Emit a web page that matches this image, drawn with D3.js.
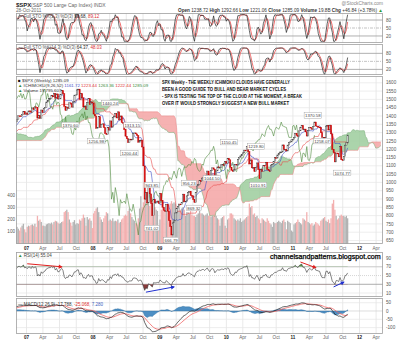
<!DOCTYPE html>
<html><head><meta charset="utf-8">
<script src="https://cdn.jsdelivr.net/npm/d3@7"></script>
<style>
body{margin:0;background:#fff}
svg{display:block}
text{font-family:Arial,"Liberation Sans",sans-serif}
</style>
</head><body>
<svg id="c" width="400" height="341"></svg>
<script>
// ---------- DATA (weekly closes, Friday) ----------
const warmStart = "2005-04-29"; // warm-up weeks (off the left edge) for the indicators
const close2005 = [1156.85,1171.35,1154.05,1189.28,1198.78,1196.02,1200.93,1216.96,1191.57,1211.86,1211.86,1227.92,1229.03,1234.18,1226.42,1230.39,1219.71,1205.10,1218.02,1241.48,1237.91,1215.29,1228.81,1195.90,1186.57,1179.59,1198.41,1220.14,1234.72,1248.27,1268.25,1265.08,1259.37,1267.32,1268.66,1248.29];
const close2006a = [1285.45,1287.61,1261.49,1283.72,1264.03,1266.99,1289.38,1289.43,1287.23,1281.42,1307.25,1302.95,1294.83,1295.50,1289.12,1311.28,1310.61,1325.76,1291.24,1267.03,1280.16,1288.22,1252.30,1251.54,1244.50,1270.20,1265.48,1236.20,1240.29,1278.55,1279.36,1266.74,1302.30,1295.09,1311.01,1298.92,1319.66,1314.78,1335.85,1349.95,1365.62,1368.60,1377.34];
const close2006 = [1364.30,1380.90,1401.20,1400.95,1396.71,1409.84,1427.09,1410.76,1418.30];
const close2007 = [1409.71,1430.73,1430.50,1422.18,1448.39,1438.06,1455.54,1451.19,1387.17,1402.84,1386.95,1436.11,1420.86,1443.76,1452.85,1484.35,1494.07,1505.62,1505.85,1522.75,1515.73,1536.34,1507.67,1532.91,1502.56,1503.35,1530.44,1552.50,1534.10,1458.95,1433.06,1453.64,1445.94,1479.37,1473.99,1453.55,1484.25,1525.75,1526.75,1557.59,1561.80,1500.63,1535.28,1509.65,1453.70,1458.74,1440.70,1481.14,1504.66,1467.95,1484.46,1478.49];
const close2008 = [1411.63,1401.02,1325.19,1330.61,1395.42,1331.29,1349.99,1353.11,1330.63,1293.37,1288.14,1329.51,1315.22,1370.40,1332.83,1390.33,1397.84,1413.90,1388.28,1425.35,1375.93,1400.38,1360.68,1360.03,1317.93,1278.38,1262.90,1239.49,1260.68,1257.76,1260.31,1296.32,1298.20,1292.20,1282.83,1242.31,1251.70,1255.08,1213.27,1099.23,899.22,940.55,876.77,968.75,930.99,873.29,800.03,896.24,876.07,879.73,887.88,872.80];
const close2009 = [931.80,890.35,850.12,831.95,825.88,868.60,826.84,770.05,735.09,683.38,756.55,768.54,815.94,842.50,856.56,869.60,866.23,877.52,929.23,882.88,887.00,919.14,940.09,946.21,921.23,918.90,896.42,879.13,940.38,979.26,987.48,1010.48,1004.09,1026.13,1028.93,1016.40,1042.73,1068.30,1044.38,1025.21,1071.49,1087.68,1079.60,1036.19,1069.30,1093.48,1091.38,1091.49,1105.98,1106.41,1102.47,1126.48,1115.10];
const close2010 = [1144.98,1136.03,1091.76,1073.87,1066.19,1075.51,1109.17,1104.49,1138.70,1149.99,1159.90,1166.59,1178.10,1194.37,1192.13,1217.28,1186.69,1110.88,1135.68,1087.69,1089.41,1064.88,1091.60,1117.51,1076.76,1022.58,1077.96,1064.88,1102.66,1101.60,1121.64,1079.25,1071.69,1064.59,1104.51,1109.55,1125.59,1148.67,1146.24,1165.15,1176.19,1183.08,1183.26,1225.85,1199.21,1199.73,1189.40,1224.71,1240.40,1243.91,1256.77,1257.64];
const close2011 = [1271.50,1293.24,1283.35,1276.34,1310.87,1329.15,1343.01,1319.88,1321.15,1304.28,1279.21,1313.80,1332.41,1328.17,1319.68,1337.38,1363.61,1340.20,1337.77,1333.27,1331.10,1300.16,1270.98,1271.50,1268.45,1339.67,1343.80,1316.14,1345.02,1292.28,1199.38,1178.81,1123.53,1176.80,1173.97,1154.23,1216.01,1136.43,1131.42,1155.46,1224.58,1238.25,1285.09];
// weekly volume (axis units as shown on the left: 100..400)
const vol2006 = [130,140,125,110,135,150,165,120,95];
const vol2007 = [140,150,145,155,160,150,165,140,230,190,200,180,150,150,145,160,165,170,165,175,160,180,190,185,175,165,170,180,185,260,270,280,260,200,175,150,180,195,160,170,165,200,190,210,240,215,150,220,200,210,190,130];
const vol2008 = [250,270,290,300,260,220,200,180,210,230,260,250,190,200,190,210,185,190,185,200,170,180,200,210,230,240,230,270,290,250,220,200,190,170,160,210,290,390,300,340,440,380,360,330,310,330,360,230,300,280,270,150];
const vol2009 = [200,280,300,290,270,300,290,320,330,350,330,340,330,290,270,300,280,290,300,280,230,260,260,250,270,240,230,230,220,240,250,270,250,250,240,230,240,250,230,240,220,230,230,250,230,210,200,150,210,220,230,150,130];
const vol2010 = [200,210,250,250,240,210,200,190,200,190,210,180,190,200,210,220,230,330,300,310,240,250,220,230,210,200,170,210,200,190,180,210,190,170,160,140,180,170,170,180,190,180,170,190,200,180,120,190,180,170,110,100];
const vol2011 = [160,170,180,200,180,170,160,210,200,190,260,180,170,160,170,150,160,180,170,160,150,190,200,210,220,190,180,200,170,210,330,360,280,230,200,210,230,240,230,230,220,230,210];
// axis ticks
const priceTicks = [650,700,750,800,850,900,950,1000,1050,1100,1150,1200,1250,1300,1350,1400,1450,1500,1550,1600];
const volTicks = [100,200,300,400];
const stoTicks = [80,50,20];
const rsiTicks = [90,70,50,30,10];
const macdTicks = [50,0,-50,-100];
// price label annotations (text, date, price at label centre)
const priceLabels = [
 ["1370.60","2007-08-29",1346],["1440.24","2008-04-03",1478],["1256.98","2008-01-19",1249],
 ["1313.15","2008-08-03",1346],["1200.44","2008-07-18",1177],["943.85","2008-11-18",984],
 ["741.02","2008-11-18",725],["666.79","2009-03-04",653],["956.23","2009-06-10",996],
 ["869.32","2009-07-07",846],["1150.45","2010-01-15",1243],["1044.50","2009-10-13",1026],
 ["1219.80","2010-06-12",1216],["1010.91","2010-06-24",984],["1370.58","2011-04-20",1403],
 ["1258.07","2011-06-09",1249],["1074.77","2011-09-28",1057]];
// RSI trend arrows: [date1, rsi1, date2, rsi2, color]
const rsiArrows = [
 ["2007-01-05",77,"2007-07-13",70,"#e02020"],["2011-02-11",81,"2011-05-06",68,"#e02020"],
 ["2008-10-17",12,"2009-03-20",24,"#2030d0"],["2011-08-12",24,"2011-10-07",35,"#2030d0"]];
const noteLines = ["SPX Weekly - THE WEEKLY ICHIMOKU CLOUDS HAVE GENERALLY","BEEN A GOOD GUIDE TO BULL AND BEAR MARKET CYCLES","- SPX IS TESTING THE TOP OF THE CLOUD AT THE MOMENT, A BREAK","OVER IT WOULD STRONGLY SUGGEST A NEW BULL MARKET"];
const noteWidths = [128,124,140,127];

// ---------- BUILD ----------
const closes = [].concat(close2005, close2006a, close2006, close2007, close2008, close2009, close2010, close2011);
const volumes = [].concat(vol2006, vol2007, vol2008, vol2009, vol2010, vol2011);
const nWarm = close2005.length + close2006a.length;
const N = closes.length;
const t0 = Date.parse(warmStart + "T00:00:00Z");
const WEEK = 7*864e5;
const dates = d3.range(N + 26).map(i => new Date(t0 + i*WEEK));

function mid(p, i){ const s = closes.slice(Math.max(0,i-p+1), i+1); return (d3.max(s)+d3.min(s))/2; }
const tenkan = closes.map((c,i)=> i>=8 ? mid(9,i) : null);
const kijun = closes.map((c,i)=> i>=25 ? mid(26,i) : null);
const spanA = [], spanB = [];
for (let i=0;i<N;i++){
  if (i>=25) spanA[i+26] = (tenkan[i]+kijun[i])/2;
  if (i>=51) spanB[i+26] = mid(52,i);
}
function stoch(p){
  const fast = closes.map((c,i)=>{ const s=closes.slice(Math.max(0,i-p+1),i+1); const lo=d3.min(s), hi=d3.max(s); return hi>lo ? (c-lo)/(hi-lo)*100 : 50; });
  const k = fast.map((v,i)=> i>=2 ? d3.mean(fast.slice(i-2,i+1)) : v);
  const d = k.map((v,i)=> i>=2 ? d3.mean(k.slice(i-2,i+1)) : v);
  return {k,d};
}
const sto1 = stoch(5), sto2 = stoch(14);
// RSI 14 (Wilder)
const rsi = new Array(N).fill(null);
{ let g=0,l=0;
  for (let i=1;i<=14;i++){ const ch=closes[i]-closes[i-1]; if(ch>0) g+=ch; else l-=ch; }
  g/=14; l/=14; rsi[14]=100-100/(1+g/l);
  for (let i=15;i<N;i++){ const ch=closes[i]-closes[i-1]; g=(g*13+Math.max(ch,0))/14; l=(l*13+Math.max(-ch,0))/14; rsi[i]=100-100/(1+g/l); } }
function ema(arr,p){ const k=2/(p+1); const out=[]; arr.forEach((v,i)=> out.push(i===0? v : v*k + out[i-1]*(1-k))); return out; }
const e12=ema(closes,12), e26=ema(closes,26);
const macd = closes.map((c,i)=> e12[i]-e26[i]);
const signal = ema(macd,9);
const hist = macd.map((m,i)=> m-signal[i]);

// ---------- LAYOUT ----------
const L=16, R=383;
const P = {sto1:[13,43], sto2:[44,75], main:[76,244], rsi:[252,297], macd:[298,334]};
const x = d3.scaleUtc().domain([new Date(Date.UTC(2007,0,1)), new Date(Date.UTC(2012,0,1))]).range([26.5,359.5]);
const y = d3.scaleLinear().domain([1400,1000]).range([116,182.4]);
const vy = d3.scaleLinear().domain([0,400]).range([244,195]);
const ys1 = d3.scaleLinear().domain([0,100]).range([41.3,14.7]);
const ys2 = d3.scaleLinear().domain([0,100]).range([74.7,48]);
const yr = d3.scaleLinear().domain([0,100]).range([297.4,253.7]);
const ym = d3.scaleLinear().domain([0,-100]).range([311,327.6]);

const svg = d3.select("#c");
const defs = svg.append("defs");
Object.entries(P).forEach(([k,[t,b]])=>{
  defs.append("clipPath").attr("id","cl-"+k).append("rect").attr("x",L).attr("y",t).attr("width",R-L).attr("height",b-t);
});
const ticks = d3.utcMonth.every(3).range(new Date(Date.UTC(2007,0,1)), new Date(Date.UTC(2012,4,2)));
const fmtTick = d => d.getUTCMonth()===0 ? d3.utcFormat("%y")(d) : d3.utcFormat("%b")(d);

function panel(key){
  const [t,b]=P[key];
  const g = svg.append("g");
  g.append("rect").attr("x",L).attr("y",t).attr("width",R-L).attr("height",b-t).attr("fill","#fff");
  const gg = g.append("g").attr("clip-path",`url(#cl-${key})`);
  gg.selectAll("line.v").data(ticks).join("line").attr("x1",d=>x(d)).attr("x2",d=>x(d)).attr("y1",t).attr("y2",b).attr("stroke","#e3e3e3").attr("stroke-width",0.8);
  return {g, gg, t, b};
}
function frame(key){
  const [t,b]=P[key];
  svg.append("rect").attr("x",L+0.5).attr("y",t+0.5).attr("width",R-L-1).attr("height",b-t-1).attr("fill","none").attr("stroke","#a0a0a0").attr("stroke-width",0.8);
}
function rightLabels(vals, sc, fmt){
  svg.append("g").selectAll("text").data(vals).join("text").attr("x",R+3).attr("y",d=>sc(d)+1.6)
    .attr("font-size",4.6).attr("fill","#555").text(fmt||(d=>d));
}
const lineGen = (sc, arr) => d3.line().defined((d,i)=>arr[i]!=null).x((d,i)=>x(dates[i])).y((d,i)=>sc(arr[i]));

// ---------- HEADER ----------
svg.append("text").attr("x",16).attr("y",7).attr("font-size",6).attr("font-weight","bold").attr("fill","#222").text("$SPX");
svg.append("text").attr("x",31).attr("y",7).attr("font-size",5).attr("fill","#666").text("(S&P 500 Large Cap Index) INDX");
svg.append("text").attr("x",16).attr("y",11.8).attr("font-size",4.6).attr("fill","#666").text("28-Oct-2011");
svg.append("text").attr("x",383).attr("y",5).attr("text-anchor","end").attr("font-size",4.8).attr("fill","#888").text("@StockCharts.com");
{
  const t = svg.append("text").attr("x",178).attr("y",11.8).attr("font-size",4.7).attr("fill","#333").attr("textLength",205).attr("lengthAdjust","spacingAndGlyphs");
  [["Open ",1],["1238.72 ",0],["High ",1],["1292.66 ",0],["Low ",1],["1221.06 ",0],["Close ",1],["1285.09 ",0],["Volume ",1],["19.8B ",0],["Chg ",1],["+46.84 (+3.78%) ",0]]
   .forEach(([s,b])=> t.append("tspan").attr("font-weight",b?"bold":"normal").text(s));
  t.append("tspan").attr("fill","#2a9a2a").text("▲");
}

// ---------- STO PANELS ----------
function stoPanel(key, sc, st, label, v1, v2){
  const p = panel(key);
  [80,20].forEach(v=> p.gg.append("line").attr("x1",L).attr("x2",R).attr("y1",sc(v)).attr("y2",sc(v)).attr("stroke","#9a9a9a").attr("stroke-width",0.8));
  p.gg.append("line").attr("x1",L).attr("x2",R).attr("y1",sc(50)).attr("y2",sc(50)).attr("stroke","#aaa").attr("stroke-width",0.7).attr("stroke-dasharray","3,1,1,1");
  p.gg.append("path").attr("d",lineGen(sc,st.d)(closes)).attr("fill","none").attr("stroke","#f07070").attr("stroke-width",1);
  p.gg.append("path").attr("d",lineGen(sc,st.k)(closes)).attr("fill","none").attr("stroke","#222").attr("stroke-width",0.7);
  const t = svg.append("text").attr("x",18).attr("y",P[key][0]+4.6).attr("font-size",4.5).attr("fill","#555");
  t.append("tspan").text("— "+label+" ");
  t.append("tspan").attr("fill","#222").text(v1+", ");
  t.append("tspan").attr("fill","#e03030").text(v2);
  frame(key);
  rightLabels(stoTicks, sc);
}
stoPanel("sto1", ys1, sto1, "Full STO %K(5,3) %D(3)", "90.68", "89.12");
stoPanel("sto2", ys2, sto2, "Full STO %K(14,3) %D(3)", "64.37", "48.03");

// ---------- MAIN PANEL ----------
{
  const p = panel("main");
  p.gg.selectAll("line.h").data(priceTicks).join("line").attr("x1",L).attr("x2",R).attr("y1",d=>y(d)).attr("y2",d=>y(d)).attr("stroke","#e6e6e6").attr("stroke-width",0.7);
  // volume
  const vg = p.gg.append("g");
  volumes.forEach((v,j)=>{
    const i = j + nWarm;
    const up = closes[i] >= closes[i-1];
    vg.append("rect").attr("x",x(dates[i])-0.65).attr("width",1.3).attr("y",vy(v)).attr("height",vy(0)-vy(v))
      .attr("fill", up ? "#b3b3b3" : "#f3b0b0");
  });
  // cloud
  const idx = d3.range(N+26).filter(i=> spanA[i]!=null && spanB[i]!=null);
  const areaG = d3.area().x(i=>x(dates[i])).y0(i=>y(spanB[i])).y1(i=>y(Math.max(spanA[i],spanB[i])));
  const areaR = d3.area().x(i=>x(dates[i])).y0(i=>y(spanA[i])).y1(i=>y(Math.max(spanA[i],spanB[i])));
  p.gg.append("path").attr("d",areaG(idx)).attr("fill","#9ccc9c").attr("opacity",0.85);
  p.gg.append("path").attr("d",areaR(idx)).attr("fill","#f4a4a4").attr("opacity",0.85);
  const lA = d3.line().x(i=>x(dates[i])).y(i=>y(spanA[i]));
  const lB = d3.line().x(i=>x(dates[i])).y(i=>y(spanB[i]));
  p.gg.append("path").attr("d",lA(idx)).attr("fill","none").attr("stroke","#7fb27f").attr("stroke-width",0.6);
  p.gg.append("path").attr("d",lB(idx)).attr("fill","none").attr("stroke","#ee8f8f").attr("stroke-width",0.6);
  // kijun, tenkan, chikou
  p.gg.append("path").attr("d",lineGen(y,kijun)(closes)).attr("fill","none").attr("stroke","#e84a4a").attr("stroke-width",0.6);
  p.gg.append("path").attr("d",lineGen(y,tenkan)(closes)).attr("fill","none").attr("stroke","#4050c8").attr("stroke-width",0.6);
  const chik = d3.line().x((c,i)=>x(dates[i-26])).y(c=>y(c));
  p.gg.append("path").attr("d",chik.defined((c,i)=>i>=26)(closes)).attr("fill","none").attr("stroke","#4d8a3c").attr("stroke-width",0.6);
  // candles (open = previous close)
  const cg = p.gg.append("g");
  for (let i=nWarm;i<N;i++){
    const o=closes[i-1], c=closes[i], dn=c<o;
    const top=y(Math.max(o,c)), bot=y(Math.min(o,c));
    cg.append("rect").attr("x",x(dates[i])-0.6).attr("width",1.2).attr("y",top).attr("height",Math.max(0.8,bot-top))
      .attr("fill", dn ? "#e01010" : "#fff").attr("stroke", dn ? "#c00000" : "#333").attr("stroke-width",0.45);
  }
  // price labels
  const lg = svg.append("g");
  priceLabels.forEach(([t,d,v])=>{
    const cx = x(new Date(d+"T00:00:00Z")), cy = y(v);
    const w = t.length*2.2+2;
    lg.append("rect").attr("x",cx-w/2).attr("y",cy-2.8).attr("width",w).attr("height",5.6).attr("fill","#fff").attr("stroke","#999").attr("stroke-width",0.4);
    lg.append("text").attr("x",cx).attr("y",cy+1.6).attr("text-anchor","middle").attr("font-size",4.3).attr("fill","#444").text(t);
  });
  // legend
  const l1 = svg.append("text").attr("x",18).attr("y",82).attr("font-size",4.4).attr("fill","#333");
  l1.append("tspan").attr("fill","#111").text("■ ");
  l1.append("tspan").text("$SPX (Weekly) 1285.09");
  const l2 = svg.append("text").attr("x",18).attr("y",87).attr("font-size",4.4).attr("fill","#333");
  l2.append("tspan").attr("fill","#3a8a3a").text("▲ ");
  l2.append("tspan").text("ICHIMOKU(9,26,52) ");
  l2.append("tspan").attr("fill","#4050c8").text("1161.72 ");
  l2.append("tspan").attr("fill","#e03030").text("1223.44 ");
  l2.append("tspan").attr("fill","#3a8a3a").text("1263.36 ");
  l2.append("tspan").attr("fill","#e03030").text("1222.44 ");
  l2.append("tspan").attr("fill","#3a8a3a").text("1285.09");
  const l3 = svg.append("text").attr("x",18).attr("y",92).attr("font-size",4.4).attr("fill","#333");
  l3.append("tspan").attr("fill","#3a8a3a").text("▲ ");
  l3.append("tspan").text("Volume 19,795,607");
  // note text
  noteLines.forEach((s,i)=> svg.append("text").attr("x",162).attr("y",84+i*6.9).attr("font-size",5).attr("font-weight","bold").attr("fill","#111")
     .attr("textLength",noteWidths[i]).attr("lengthAdjust","spacingAndGlyphs").text(s));
  frame("main");
  rightLabels(priceTicks, y);
  svg.append("g").selectAll("text").data(volTicks).join("text").attr("x",15).attr("y",d=>vy(d)+1.6).attr("text-anchor","end").attr("font-size",4.6).attr("fill","#555").text(d=>d);
}
// x-axis labels
function xLabels(yy){
  svg.append("g").selectAll("text").data(ticks).join("text").attr("x",d=>x(d)).attr("y",yy).attr("text-anchor","middle")
    .attr("font-size",4.6).attr("font-weight",d=>d.getUTCMonth()===0?"bold":"normal").attr("fill",d=>d.getUTCMonth()===0?"#222":"#666").text(fmtTick);
}
xLabels(250);

// ---------- RSI ----------
{
  const p = panel("rsi");
  [90,10].forEach(v=> p.gg.append("line").attr("x1",L).attr("x2",R).attr("y1",yr(v)).attr("y2",yr(v)).attr("stroke","#e6e6e6").attr("stroke-width",0.7));
  p.gg.append("line").attr("x1",L).attr("x2",R).attr("y1",yr(70)).attr("y2",yr(70)).attr("stroke","#c8c8c8").attr("stroke-width",1);
  p.gg.append("line").attr("x1",L).attr("x2",R).attr("y1",yr(50)).attr("y2",yr(50)).attr("stroke","#bbb").attr("stroke-width",0.6).attr("stroke-dasharray","1,1");
  p.gg.append("line").attr("x1",L).attr("x2",R).attr("y1",yr(30)).attr("y2",yr(30)).attr("stroke","#999").attr("stroke-width",0.8);
  defs.append("clipPath").attr("id","cl-ob").append("rect").attr("x",L).attr("y",P.rsi[0]).attr("width",R-L).attr("height",yr(70)-P.rsi[0]);
  defs.append("clipPath").attr("id","cl-os").append("rect").attr("x",L).attr("y",yr(30)).attr("width",R-L).attr("height",P.rsi[1]-yr(30));
  const ar = (lvl)=> d3.area().defined((d,i)=>rsi[i]!=null).x((d,i)=>x(dates[i])).y0(yr(lvl)).y1((d,i)=>yr(rsi[i]));
  p.gg.append("g").attr("clip-path","url(#cl-ob)").append("path").attr("d",ar(70)(closes)).attr("fill","#5a9a4a");
  p.gg.append("g").attr("clip-path","url(#cl-os)").append("path").attr("d",ar(30)(closes)).attr("fill","#8a3a3a");
  p.gg.append("path").attr("d",lineGen(yr,rsi)(closes)).attr("fill","none").attr("stroke","#333").attr("stroke-width",0.6);
  rsiArrows.forEach(([d1,v1,d2,v2,col])=>{
    const x1=x(new Date(d1+"T00:00:00Z")), y1=yr(v1), x2=x(new Date(d2+"T00:00:00Z")), y2=yr(v2);
    svg.append("line").attr("x1",x1).attr("y1",y1).attr("x2",x2).attr("y2",y2).attr("stroke",col).attr("stroke-width",1);
    const a=Math.atan2(y2-y1,x2-x1), s=3;
    svg.append("path").attr("d",`M${x2+Math.cos(a)*1},${y2+Math.sin(a)*1}L${x2-Math.cos(a)*s-Math.sin(a)*s*0.7},${y2-Math.sin(a)*s+Math.cos(a)*s*0.7}L${x2-Math.cos(a)*s+Math.sin(a)*s*0.7},${y2-Math.sin(a)*s-Math.cos(a)*s*0.7}Z`).attr("fill",col);
  });
  const t = svg.append("text").attr("x",18).attr("y",257).attr("font-size",4.5).attr("fill","#444");
  t.append("tspan").attr("fill","#3a8a3a").text("▲ ");
  t.append("tspan").text("RSI(14) 55.04");
  frame("rsi");
  rightLabels(rsiTicks, yr);
}

// ---------- MACD ----------
{
  const p = panel("macd");
  macdTicks.forEach(v=> p.gg.append("line").attr("x1",L).attr("x2",R).attr("y1",ym(v)).attr("y2",ym(v)).attr("stroke", v===0?"#d0d0d0":"#e6e6e6").attr("stroke-width",0.7));
  const ha = d3.area().x((d,i)=>x(dates[i])).y0(ym(0)).y1((d,i)=>ym(hist[i]));
  p.gg.append("path").attr("d",ha(closes)).attr("fill","#4d8fc4").attr("stroke","#2d6a9a").attr("stroke-width",0.4);
  p.gg.append("path").attr("d",lineGen(ym,signal)(closes)).attr("fill","none").attr("stroke","#f06060").attr("stroke-width",0.8);
  p.gg.append("path").attr("d",lineGen(ym,macd)(closes)).attr("fill","none").attr("stroke","#222").attr("stroke-width",0.7);
  const t = svg.append("text").attr("x",18).attr("y",306).attr("font-size",4.5).attr("fill","#333");
  t.append("tspan").text("— MACD(12,26,9) -17.788, ");
  t.append("tspan").attr("fill","#e03030").text("-25.068, ");
  t.append("tspan").attr("fill","#4060c0").text("7.280");
  frame("macd");
  rightLabels(macdTicks, ym);
}
xLabels(339);

// blog watermark text: font size fitted so its natural width is ~111px
{
  const bt = svg.append("text").attr("x",270).attr("y",259).attr("font-size",8).attr("fill","#000")
    .attr("stroke","#000").attr("stroke-width",0.25).text("channelsandpatterns.blogspot.com");
  const w = bt.node().getComputedTextLength();
  bt.attr("font-size", 8*111/w);
}
</script>
</body></html>
